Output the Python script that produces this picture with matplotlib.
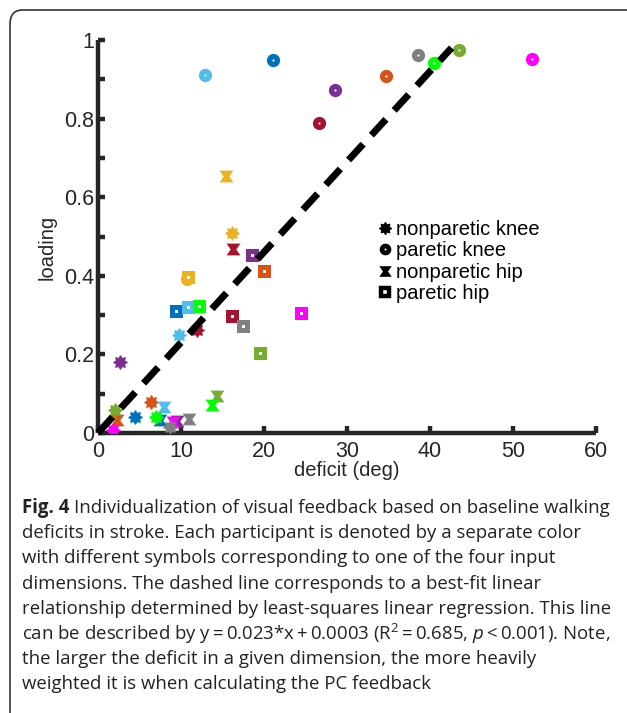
import matplotlib
matplotlib.use("Agg")
import numpy as np
import matplotlib.pyplot as plt
from matplotlib.lines import Line2D
from matplotlib.path import Path
from matplotlib.patches import FancyBboxPatch

# participant colours (one per participant)
colors = ['#0072BD', '#D95319', '#EDB120', '#7E2F8E', '#77AC30',
          '#4DBEEE', '#A2142F', '#00FF00', '#FF00FF', '#808080']

# deficit (deg) / loading per participant, in the order of `colors`
np_knee_x = [4.5, 6.4, 16.1, 2.7, 2.0, 9.8, 11.9, 7.0, 1.8, 8.7]
np_knee_y = [0.041, 0.079, 0.508, 0.180, 0.058, 0.249, 0.262, 0.041, 0.008, 0.015]
p_knee_x = [21.1, 34.7, 10.7, 28.6, 43.5, 12.9, 26.6, 40.5, 52.3, 38.6]
p_knee_y = [0.949, 0.908, 0.392, 0.873, 0.975, 0.911, 0.789, 0.941, 0.952, 0.962]
np_hip_x = [7.5, 2.3, 15.4, 9.5, 14.3, 7.9, 16.3, 13.7, 9.0, 11.0]
np_hip_y = [0.033, 0.033, 0.654, 0.031, 0.093, 0.066, 0.468, 0.072, 0.028, 0.036]
p_hip_x = [9.4, 20.0, 10.9, 18.6, 19.5, 10.8, 16.2, 12.2, 24.5, 17.5]
p_hip_y = [0.310, 0.412, 0.396, 0.453, 0.203, 0.321, 0.298, 0.324, 0.306, 0.273]

fit_x = [0, 42.6]
fit_slope = 0.023
fit_icpt = 0.0003

legend_labels = ['nonparetic knee', 'paretic knee', 'nonparetic hip', 'paretic hip']
x_ticks = [0, 10, 20, 30, 40, 50, 60]
y_ticks = [0, 0.2, 0.4, 0.6, 0.8, 1]

ts = '\u2009'
cap_bold = "Fig. 4"
caption = [
    "Individualization of visual feedback based on baseline walking",
    "deficits in stroke. Each participant is denoted by a separate color",
    "with different symbols corresponding to one of the four input",
    "dimensions. The dashed line corresponds to a best-fit linear",
    "relationship determined by least-squares linear regression. This line",
    f"can be described by y{ts}={ts}0.023*x{ts}+{ts}0.0003 (R$^{{2}}${ts}={ts}0.685, "
    f"$\\mathit{{p}}${ts}<{ts}0.001). Note,",
    "the larger the deficit in a given dimension, the more heavily",
    "weighted it is when calculating the PC feedback",
]

cap_font = 'Open Sans'
plt.rcParams['mathtext.fontset'] = 'custom'
plt.rcParams['mathtext.rm'] = cap_font
plt.rcParams['mathtext.it'] = cap_font + ':italic'
plt.rcParams['mathtext.bf'] = cap_font + ':bold'

# marker shapes
hourglass = Path([(-1, 0.85), (1, 0.85), (0.4, 0), (1, -0.85), (-1, -0.85), (-0.4, 0), (-1, 0.85)],
                 [Path.MOVETO] + [Path.LINETO] * 5 + [Path.CLOSEPOLY])
ang = np.linspace(0, 2 * np.pi, 17)[:-1] + np.pi / 2
rad = np.where(np.arange(16) % 2 == 0, 1.0, 0.62)
star_v = np.column_stack([rad * np.cos(ang), rad * np.sin(ang)])
star_v = np.vstack([star_v, star_v[:1]])
blobstar = Path(star_v, [Path.MOVETO] + [Path.LINETO] * 15 + [Path.CLOSEPOLY])

W, H = 627, 713
fig = plt.figure(figsize=(W / 100, H / 100), dpi=100)

# journal frame
frame = FancyBboxPatch((10 / W, -20 / H), 660 / W, 723 / H,
                       boxstyle="round,pad=0,rounding_size=0.02",
                       transform=fig.transFigure, fill=False, ec='#333333', lw=1.2)
fig.patches.append(frame)

ax = fig.add_axes([98 / W, 1 - 433 / H, 498 / W, 393 / H])
axc = '#262626'

for i, c in enumerate(colors):
    ax.plot(np_knee_x[i], np_knee_y[i], ls='none', mfc=c, mec=c, marker=blobstar, ms=9.5,
            mew=1.0, zorder=3)
    ax.plot(p_knee_x[i], p_knee_y[i], ls='none', mec=c, mfc='white', marker='o', ms=5.6,
            mew=3.9, zorder=3)
    ax.plot(np_hip_x[i], np_hip_y[i], ls='none', mfc=c, mec=c, marker=hourglass, ms=10,
            mew=0, zorder=3)
    ax.plot(p_hip_x[i], p_hip_y[i], ls='none', mec=c, mfc='white', marker='s', ms=6.4,
            mew=3.6, zorder=3)

fit_y = [fit_slope * v + fit_icpt for v in fit_x]
ax.plot(fit_x, fit_y, color='black', lw=5, dashes=(3.1, 1.75), solid_capstyle='butt',
        dash_capstyle='butt', zorder=4, clip_on=False)

ax.set_xlim(0, 60)
ax.set_ylim(0, 1)
ax.set_xticks(x_ticks)
ax.set_yticks(y_ticks)
ax.set_yticks([0.1, 0.3, 0.5, 0.7, 0.9], minor=True)
ax.set_yticklabels(['0', '0.2', '0.4', '0.6', '0.8', '1'])
for s in ['top', 'right']:
    ax.spines[s].set_visible(False)
for s in ['left', 'bottom']:
    ax.spines[s].set_linewidth(3.2)
    ax.spines[s].set_color(axc)
    ax.spines[s].set_capstyle('butt')
ax.tick_params(which='both', direction='in', length=5, width=3.2, color=axc,
               labelsize=15.5, labelcolor=axc)
ax.tick_params(axis='x', pad=6)
ax.tick_params(axis='y', pad=3)
for lab in ax.get_xticklabels() + ax.get_yticklabels():
    lab.set_fontfamily('Liberation Sans')
ax.set_xlabel('deficit (deg)', fontsize=14.5, family='Liberation Sans', color=axc)
ax.set_ylabel('loading', fontsize=14.5, family='Liberation Sans', color=axc)
ax.xaxis.set_label_coords(0.5, (433 - 470) / 393)
ax.xaxis.label.set_va('center')
ax.yaxis.set_label_coords((47 - 98) / 498, (433 - 247) / 393)
ax.yaxis.label.set_va('center')

handles = [
    Line2D([], [], ls='none', mfc='black', mec='black', marker=blobstar, ms=8.5, mew=1.0),
    Line2D([], [], ls='none', mec='black', mfc='white', marker='o', ms=5, mew=3.4),
    Line2D([], [], ls='none', mfc='black', mec='black', marker=hourglass, ms=9, mew=0),
    Line2D([], [], ls='none', mec='black', mfc='white', marker='s', ms=5.6, mew=3.2),
]
leg = ax.legend(handles, legend_labels, loc='upper left', bbox_to_anchor=(380 / W, 1 - 220 / H),
                bbox_transform=fig.transFigure, frameon=False, borderaxespad=0, borderpad=0,
                handlelength=0.5, handletextpad=0.3, labelspacing=0.12,
                prop={'family': 'Liberation Sans', 'size': 14.5})

y0 = 508
cap_size = 13.4
tb = fig.text(22 / W, 1 - y0 / H, cap_bold, family=cap_font, fontsize=cap_size,
              weight='bold', color='#222222', va='center', ha='left')
fig.canvas.draw()
bx = tb.get_window_extent().x1
for k, line in enumerate(caption):
    x = (bx + 5) / W if k == 0 else 22 / W
    fig.text(x, 1 - (y0 + 25.2 * k) / H, line, family=[cap_font, 'DejaVu Sans'],
             fontsize=cap_size, color='#222222', va='center', ha='left')

fig.savefig('out.png', dpi=100)
